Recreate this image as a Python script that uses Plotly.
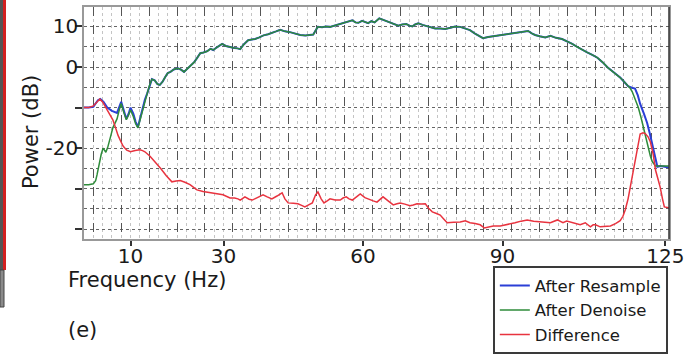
import plotly.graph_objects as go

# ---------------- data ----------------
resample_low_f = [0, 1, 2, 3, 3.5, 4.2, 5, 6, 7.1, 7.6, 8, 8.5, 9.1, 9.6, 10, 10.6, 11.1, 11.6, 12.1, 12.6]
resample_low_p = [-10, -10, -9.8, -8.2, -7.9, -8.6, -10, -10.8, -11.3, -10, -8.6, -10.5, -12.8, -11.5, -10, -11.5, -13.5, -14.8, -12.5, -10.2]

denoise_low_f = [0, 1, 2, 2.5, 2.8, 3.3, 3.7, 4.1, 4.4, 4.7, 5.1, 5.4, 5.8, 6.2, 6.7, 7.1, 7.6, 8, 8.5, 9.1, 9.6, 10, 10.6, 11.1, 11.6, 12.1, 12.6]
denoise_low_p = [-29, -29, -28.8, -28, -26.6, -23.5, -21.5, -20, -20.6, -21, -19.8, -18.7, -16.8, -15, -13.8, -12.8, -10.5, -9, -11, -13, -11.8, -10.6, -12.2, -14, -15, -12.8, -10.4]

shared_f = [13.1, 13.6, 14.1, 14.6, 15.2, 15.8, 16.3, 16.9, 17.5, 18, 18.6, 19.3, 20.2, 20.8, 21.5, 22.2, 23, 23.7,
            24.3, 25, 25.7, 26.5, 27.2, 27.8, 28.5, 29.2, 29.7, 30.5, 31.4, 32.3, 33, 33.6, 34.3, 35.3, 36.1, 36.8,
            37.7, 38.6, 39.6, 40.5, 41.3, 42.2, 43.2, 44.3, 45.4, 46.5, 47.6, 48.5, 49.3, 49.9, 50.3, 51.2, 52, 52.9,
            53.8, 54.8, 55.7, 56.7, 57.7, 58.4, 59, 59.8, 60.4, 61.1, 61.8, 62.5, 63.5, 64.4, 65.4, 66.5, 67.6, 68.4,
            69.3, 70, 70.6, 71.2, 71.9, 72.8, 73.8, 74.6, 75.5, 76.6, 77.7, 78.8, 79.8, 80.9, 82, 83, 84, 84.9, 85.8,
            86.9, 88, 89, 90.1, 91, 92, 92.9, 93.8, 94.7, 95.5, 96.3, 97, 98, 99.2, 100.3, 101.5, 102.8, 104, 105,
            106, 107.1, 108.2, 109.3, 110.4, 111.5, 112.7, 113.9, 115.3, 116.2, 117]
shared_p = [-8, -6.5, -4.5, -3, -3.3, -4.2, -4.4, -3.6, -2.4, -1.5, -1.2, -0.6, -0.3, -0.6, -1.2, -0.5, 0.5, 1.2,
            2.2, 3.4, 3.6, 3.9, 4.5, 4.2, 4.8, 5.4, 5.7, 5.2, 4.9, 4.7, 4.6, 4.4, 5.5, 6.6, 6.8, 6.9,
            7.3, 7.8, 8.1, 8.4, 8.8, 9.2, 8.8, 8.6, 8.2, 7.9, 7.8, 7.9, 8, 9.2, 9.9, 9.8, 10.0, 9.9,
            10.2, 10.5, 10.7, 11.0, 11.5, 11.0, 10.9, 11.4, 11.1, 10.8, 11.3, 11.0, 12, 11.6, 11.2, 10.8, 10.2, 10.5,
            10.6, 10.2, 10, 10.5, 10.8, 10.4, 10.1, 9.7, 9.5, 9.5, 9.4, 9.7, 10, 9.9, 9.4, 9.1, 8.3, 7.6, 7.1,
            7.4, 7.6, 7.8, 8, 8.1, 8.3, 8.5, 8.6, 8.7, 8.9, 8.3, 7.9, 7.6, 7.3, 7.7, 7.2, 6.9, 6.3, 5.7,
            5, 4.2, 3.6, 3.0, 2.3, 1.2, -0.2, -1.3, -2.6, -3.7, -4.7]

resample_high_f = [117.8, 118.5, 119.1, 119.6, 120.4, 121.1, 121.7, 122.2, 122.8, 123.3, 124, 125, 125.8]
resample_high_p = [-5.1, -5.3, -7, -9.1, -11.5, -13.8, -16.5, -19.2, -22, -24.6, -24.4, -24.6, -24.8]

denoise_high_f = [117.5, 117.9, 118.6, 119.2, 119.8, 120.3, 120.9, 121.4, 121.8, 122.2, 122.9, 124, 125.8]
denoise_high_p = [-5.3, -6.1, -8, -10, -12.5, -15, -17.8, -20.4, -22, -23.3, -24.4, -24.4, -24.4]

difference_f = [0, 1, 2, 3, 3.4, 4, 4.9, 5.5, 6.2, 6.8, 7.3, 7.9, 8.4, 9.2, 10, 11, 12, 12.6, 13.1, 14.2, 15.3,
                16.5, 17.7, 18.9, 19.8, 20.7, 21.7, 22.8, 23.5, 24.3, 25.6, 27.1, 28.5, 29.9, 31.4, 32.4, 33.1,
                33.6, 34.6, 35.5, 36.2, 37.3, 38.5, 39.4, 40.4, 41.5, 42.6, 43.2, 43.9, 45, 46, 46.8, 47.5, 48.3,
                49.1, 49.8, 50.3, 51, 51.6, 52.3, 52.9, 54, 55.1, 55.7, 56.4, 57, 57.7, 58.6, 59.4, 60.4, 61.5,
                62.2, 63, 63.6, 64.3, 65.4, 66.5, 67.3, 68, 69, 70.1, 70.8, 71.6, 72.5, 73.4, 74.1, 74.9, 75.8,
                76.6, 77.3, 78.1, 79.5, 80.9, 82, 83, 84.1, 85.2, 86.1, 87, 88, 89.5, 91, 92.7, 94, 95.3, 96.7,
                98.1, 99.2, 100.3, 101.8, 102.4, 103, 103.8, 104.6, 105.7, 106.7, 107.8, 108.9, 109.5, 110, 111,
                112, 113.2, 114.3, 115.3, 115.9, 116.4, 117, 117.5, 118, 118.5, 119, 119.6, 120.2, 120.7, 121.3,
                121.8, 122.4, 122.9, 123.4, 123.9, 124.4, 124.8, 125.8]
difference_p = [-10, -10, -9.6, -8.2, -7.9, -8.6, -10.3, -11.5, -13, -15, -16.8, -18.3, -19.5, -20.5, -20.9, -20.6,
                -20.4, -20.6, -20.9, -22, -23.4, -25, -26.8, -28.3, -28.1, -28, -28.4, -29, -29.6, -30.3, -30.7,
                -31, -31.2, -31.5, -32.3, -32.3, -32.5, -32.8, -32, -32.6, -32.8, -32.2, -31.5, -32, -32.5, -31.8,
                -31, -32.5, -33.5, -33.6, -33.7, -34.1, -34.5, -34, -33.5, -31.5, -30.8, -32.5, -33.5, -33, -32.5,
                -32.8, -32.8, -32.3, -32, -32.5, -32.8, -32, -31.3, -32.2, -32.8, -33, -33.3, -32.6, -32, -33, -34,
                -33.7, -33.5, -33.8, -34.2, -34, -33.7, -33.8, -33.7, -34.8, -35.7, -36.1, -36.5, -37.4, -38.4,
                -38.3, -38.2, -37.9, -38.4, -38.6, -38.9, -39.7, -39.4, -39.2, -39.2, -38.9, -38.4, -38, -37.7,
                -38, -38.2, -38.3, -38.4, -37.7, -38.1, -38.4, -38, -38.2, -38.6, -38.9, -38.4, -39.4, -38.9,
                -38.9, -39.4, -39.3, -39.2, -38.6, -37.9, -36.8, -35.2, -32.5, -29.6, -26.5, -23.6, -20, -16.5,
                -16.2, -16.4, -17.2, -18.5, -21.5, -25.4, -27.5, -29.6, -32.5, -34.5, -34.7]

x_tick_vals = [10, 30, 60, 90, 125]
y_tick_vals = [10, 0, -10, -20, -30, -40]
y_tick_text = ["10", "0", "", "-20", "", ""]

series_names = ["After Resample", "After Denoise", "Difference"]
series_colors = ["#2b3fd6", "#2e8b3a", "#e8333f"]

# ---------------- figure ----------------
resample_f = resample_low_f + shared_f + resample_high_f
resample_p = resample_low_p + shared_p + resample_high_p
denoise_f = denoise_low_f + shared_f + denoise_high_f
denoise_p = denoise_low_p + shared_p + denoise_high_p

FONT = "DejaVu Sans"
fig = go.Figure()
fig.add_trace(go.Scatter(x=resample_f, y=resample_p, mode="lines", name=series_names[0],
                         line=dict(color=series_colors[0], width=2)))
fig.add_trace(go.Scatter(x=denoise_f, y=denoise_p, mode="lines", name=series_names[1],
                         line=dict(color=series_colors[1], width=1.5)))
fig.add_trace(go.Scatter(x=difference_f, y=difference_p, mode="lines", name=series_names[2],
                         line=dict(color=series_colors[2], width=1.5)))

X_RANGE = [0, 125.8]
Y_RANGE = [-42.4, 14.8]

fig.update_layout(
    width=697, height=358,
    margin=dict(l=84, r=28, t=7, b=119, autoexpand=False),
    paper_bgcolor="white", plot_bgcolor="white",
    font=dict(family=FONT, size=20, color="#1a1a1a"),
    showlegend=True,
    legend=dict(x=0.998, y=-0.118, xanchor="right", yanchor="top",
                bgcolor="white", bordercolor="#3a3a3a", borderwidth=2,
                font=dict(family=FONT, size=16.5, color="#1a1a1a"),
                itemwidth=30, tracegroupgap=0),
    xaxis=dict(range=X_RANGE, tickmode="array", tickvals=x_tick_vals,
               ticks="outside", ticklen=5, tickwidth=1.5, tickcolor="#333",
               ticklabelstandoff=-7,
               showgrid=False, zeroline=False, automargin=False,
               showline=True, linecolor="#999", linewidth=1.5, mirror=True,
               tickfont=dict(size=20),
               minor=dict(tickmode="linear", tick0=0, dtick=2, showgrid=True,
                          gridcolor="#c4c4c4", griddash="dot", gridwidth=1, ticks="")),
    xaxis2=dict(range=X_RANGE, overlaying="x", matches="x", showticklabels=False, ticks="",
                showgrid=True, tickmode="linear", tick0=2, dtick=6, automargin=False,
                gridcolor="#555", griddash="dash", gridwidth=1, zeroline=False, showline=False),
    yaxis=dict(range=Y_RANGE, tickmode="array", tickvals=y_tick_vals, ticktext=y_tick_text,
               ticks="outside", ticklen=7, tickwidth=1.5, tickcolor="#333",
               ticklabelstandoff=-7,
               showgrid=True, gridcolor="#666", griddash="dot", gridwidth=1,
               zeroline=False, automargin=False,
               showline=True, linecolor="#999", linewidth=1.5, mirror=True,
               tickfont=dict(size=20),
               minor=dict(tickmode="linear", tick0=0, dtick=5, showgrid=True,
                          gridcolor="#666", griddash="dot", gridwidth=1, ticks="")),
)
# empty trace so the overlay grid axis gets drawn
fig.add_trace(go.Scatter(x=[], y=[], xaxis="x2", showlegend=False, hoverinfo="skip"))

# right frame line is darker in the reference
fig.add_shape(type="line", xref="paper", yref="paper", x0=1, x1=1, y0=0, y1=1,
              line=dict(color="#333", width=1.5), layer="above")

# text labels
fig.add_annotation(text="Frequency (Hz)", xref="paper", yref="paper", x=-0.031, y=-0.177,
                   xanchor="left", yanchor="middle", showarrow=False, font=dict(size=21, family=FONT))
fig.add_annotation(text="(e)", xref="paper", yref="paper", x=-0.031, y=-0.392,
                   xanchor="left", yanchor="middle", showarrow=False, font=dict(size=21, family=FONT))
fig.add_annotation(text="Power (dB)", xref="paper", yref="paper", x=-0.0906, y=0.461,
                   xanchor="center", yanchor="middle", textangle=-90, showarrow=False,
                   font=dict(size=21, family=FONT))

# neighbouring-panel remnants at the far left edge
def px_x(p):
    return (p - 84) / 585.0

def px_y(p):
    return (239 - p) / 232.0

fig.add_shape(type="rect", xref="paper", yref="paper", x0=px_x(0), x1=px_x(3), y0=px_y(270), y1=px_y(0),
              line=dict(width=0), fillcolor="#555")
fig.add_shape(type="rect", xref="paper", yref="paper", x0=px_x(3), x1=px_x(6), y0=px_y(270), y1=px_y(0),
              line=dict(width=0), fillcolor="#d42020")
fig.add_shape(type="rect", xref="paper", yref="paper", x0=px_x(0), x1=px_x(4), y0=px_y(307), y1=px_y(270),
              line=dict(color="#444", width=1), fillcolor="#8a8a8a")

fig.write_html("out.html", config={"displayModeBar": False},
               post_script="document.body.style.margin='0';document.body.style.padding='0';")
